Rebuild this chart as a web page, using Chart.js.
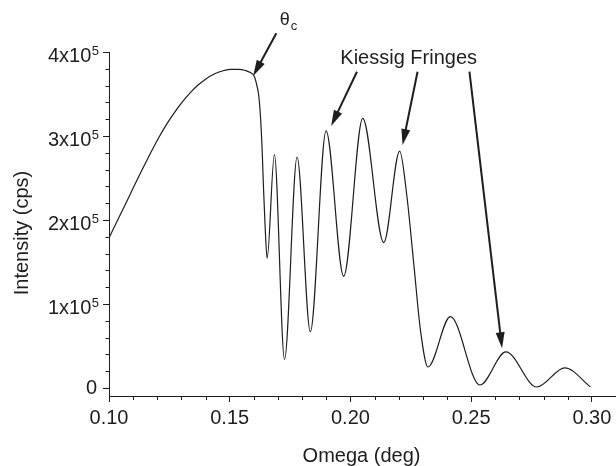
<!DOCTYPE html>
<html><head><meta charset="utf-8">
<script src="https://cdn.jsdelivr.net/npm/chart.js@4.4.0/dist/chart.umd.min.js"></script>
<style>html,body{margin:0;padding:0;background:#fff;}#wrap{width:616px;height:466px;}</style>
</head><body><div id="wrap"><canvas id="c" width="616" height="466"></canvas></div>
<script>
// ---- data ----
const omega = [
  0.1000, 0.1034, 0.1068, 0.1101, 0.1134, 0.1167, 0.1204, 0.1237, 0.1271, 0.1304,
  0.1337, 0.1370, 0.1403, 0.1436, 0.1469, 0.1503, 0.1536, 0.1565, 0.1585, 0.1602,
  0.1614, 0.1620, 0.1627, 0.1634, 0.1640, 0.1647, 0.1655, 0.1685, 0.1727, 0.1779,
  0.1834, 0.1899, 0.1972, 0.2051, 0.2138, 0.2204, 0.2234, 0.2262, 0.2290, 0.2321,
  0.2414, 0.2536, 0.2644, 0.2772, 0.2888, 0.2994
];
const intensity = [
  178600, 198800, 218800, 238600, 258000, 276800, 297000, 313300, 327900, 340600,
  351700, 361000, 368300, 373800, 377400, 379200, 379400, 378000, 375600, 370800,
  358300, 348800, 325000, 286000, 238000, 190000, 154500, 278000, 34000, 275000,
  67000, 306000, 133000, 321000, 173000, 282000, 228000, 149000, 69000, 25000,
  85000, 3600, 43000, 1200, 24000, 1500
];
// short vertical start of the scan at omega = 0.10
const startOmega = [0.1000, 0.1000];
const startIntensity = [134500, 178600];

const xTickValues = [0.10, 0.15, 0.20, 0.25, 0.30];
const xMinorValues = [0.11,0.12,0.13,0.14,0.16,0.17,0.18,0.19,0.21,0.22,0.23,0.24,0.26,0.27,0.28,0.29,0.31];
const yTickValues = [0, 100000, 200000, 300000, 400000];
const yTickMain = ['0', '1x10', '2x10', '3x10', '4x10'];
const yTickSup = ['', '5', '5', '5', '5'];
const yMinorValues = [20000,40000,60000,80000,120000,140000,160000,180000,220000,240000,260000,280000,320000,340000,360000,380000];
const xTitle = 'Omega (deg)';
const yTitle = 'Intensity (cps)';
const fringeLabel = 'Kiessig Fringes';
const fringeLabelAt = [0.1958, 385700];
const thetaLabel = ['θ', 'c'];
const thetaLabelAt = [0.1707, 432000];
const arrowFrom = [[0.1693, 422300], [0.2027, 376500], [0.2278, 376500], [0.2493, 376500]];
const arrowTo   = [[0.1597, 371400], [0.1920, 311900], [0.2216, 289300], [0.2628, 47300]];

const FONT = '"Liberation Sans", Arial, Helvetica, sans-serif';
const INK = '#1e1e1e';

const decor = {
  id: 'decor',
  afterDraw(chart) {
    const ctx = chart.ctx, xs = chart.scales.x, ys = chart.scales.y;
    const ca = chart.chartArea;
    ctx.save();
    ctx.strokeStyle = INK; ctx.fillStyle = INK; ctx.lineWidth = 1;
    // minor ticks
    ctx.beginPath();
    xMinorValues.forEach(v => {
      const px = Math.round(xs.getPixelForValue(v)) + 0.5;
      ctx.moveTo(px, ca.bottom); ctx.lineTo(px, ca.bottom + 4);
    });
    yMinorValues.forEach(v => {
      const py = Math.round(ys.getPixelForValue(v)) + 0.5;
      ctx.moveTo(ca.left, py); ctx.lineTo(ca.left - 3.5, py);
    });
    ctx.stroke();
    // y tick labels with superscripts
    const right = ca.left - 10;
    yTickValues.forEach((v, i) => {
      const py = ys.getPixelForValue(v);
      ctx.textAlign = 'right'; ctx.textBaseline = 'alphabetic';
      if (yTickSup[i]) {
        ctx.font = '13px ' + FONT;
        const sw = ctx.measureText(yTickSup[i]).width;
        ctx.fillText(yTickSup[i], right, py + 3);
        ctx.font = '20px ' + FONT;
        ctx.fillText(yTickMain[i], right - sw - 0.5, py + 10);
      } else {
        ctx.font = '20px ' + FONT;
        ctx.fillText(yTickMain[i], right - 2, py + 6);
      }
    });
    // axis titles
    ctx.font = '20px ' + FONT;
    ctx.textAlign = 'center'; ctx.textBaseline = 'alphabetic';
    ctx.fillText(xTitle, (ca.left + ca.right) / 2 - 1, 462);
    ctx.save();
    ctx.translate(27.5, 233); ctx.rotate(-Math.PI / 2);
    ctx.fillText(yTitle, 0, 0);
    ctx.restore();
    // annotations
    ctx.textAlign = 'left';
    ctx.fillText(fringeLabel, xs.getPixelForValue(fringeLabelAt[0]), ys.getPixelForValue(fringeLabelAt[1]));
    const tx = xs.getPixelForValue(thetaLabelAt[0]), ty = ys.getPixelForValue(thetaLabelAt[1]);
    ctx.font = '18px ' + FONT;
    ctx.fillText(thetaLabel[0], tx, ty);
    const tw = ctx.measureText(thetaLabel[0]).width;
    ctx.font = '13px ' + FONT;
    ctx.fillText(thetaLabel[1], tx + tw + 1, ty + 5);
    // arrows
    arrowFrom.forEach((f, i) => {
      const x0 = xs.getPixelForValue(f[0]), y0 = ys.getPixelForValue(f[1]);
      const x1 = xs.getPixelForValue(arrowTo[i][0]), y1 = ys.getPixelForValue(arrowTo[i][1]);
      const a = Math.atan2(y1 - y0, x1 - x0);
      const hl = 16, hw = 4.5;
      const bx = x1 - hl * Math.cos(a), by = y1 - hl * Math.sin(a);
      ctx.lineWidth = 2;
      ctx.beginPath(); ctx.moveTo(x0, y0); ctx.lineTo(bx + 2 * Math.cos(a), by + 2 * Math.sin(a)); ctx.stroke();
      ctx.beginPath();
      ctx.moveTo(x1, y1);
      ctx.lineTo(bx + hw * Math.sin(a), by - hw * Math.cos(a));
      ctx.lineTo(bx - hw * Math.sin(a), by + hw * Math.cos(a));
      ctx.closePath(); ctx.fill();
    });
    ctx.restore();
  }
};

new Chart(document.getElementById('c'), {
  type: 'line',
  data: {
    datasets: [{
      data: omega.map((x, i) => ({ x: x, y: intensity[i] })),
      borderColor: INK, borderWidth: 1.2, pointRadius: 0,
      cubicInterpolationMode: 'monotone', fill: false
    }, {
      data: startOmega.map((x, i) => ({ x: x, y: startIntensity[i] })),
      borderColor: INK, borderWidth: 1.6, pointRadius: 0, tension: 0, fill: false
    }]
  },
  options: {
    responsive: false, animation: false,
    layout: { padding: { top: 52, left: 0, right: 0, bottom: 0 } },
    plugins: { legend: { display: false }, tooltip: { enabled: false }, title: { display: false } },
    scales: {
      x: {
        type: 'linear', min: 0.10, max: 0.31,
        afterBuildTicks: s => { s.ticks = xTickValues.map(v => ({ value: v })); },
        afterFit: s => { s.height = 70; },
        ticks: { callback: v => Number(v).toFixed(2), font: { family: FONT, size: 20 }, color: INK, padding: 4, maxRotation: 0, autoSkip: false },
        grid: { drawOnChartArea: false, drawTicks: true, tickLength: 6, color: INK },
        border: { display: true, color: INK, width: 1 }
      },
      y: {
        type: 'linear', min: -9500, max: 400000,
        afterBuildTicks: s => { s.ticks = yTickValues.map(v => ({ value: v })); },
        afterFit: s => { s.width = 109; },
        ticks: { display: false },
        grid: { drawOnChartArea: false, drawTicks: true, tickLength: 6, color: INK },
        border: { display: true, color: INK, width: 1 }
      }
    }
  },
  plugins: [decor]
});
</script></body></html>
